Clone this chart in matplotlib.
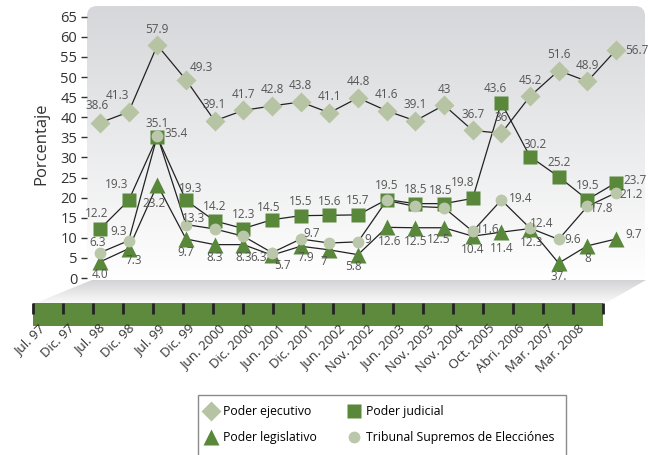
import numpy as np
import matplotlib.pyplot as plt
import matplotlib.transforms as mtransforms
from matplotlib.patches import FancyBboxPatch, Polygon, Rectangle
from matplotlib.lines import Line2D
from matplotlib.colors import LinearSegmentedColormap

plt.rcParams['font.family'] = ['Open Sans', 'DejaVu Sans']

fechas = ['Jul. 97', 'Dic. 97', 'Jul. 98', 'Dic. 98', 'Jul. 99', 'Dic. 99',
          'Jun. 2000', 'Dic. 2000', 'Jun. 2001', 'Dic. 2001', 'Jun. 2002',
          'Nov. 2002', 'Jun. 2003', 'Nov. 2003', 'Nov. 2004', 'Oct. 2005',
          'Abri. 2006', 'Mar. 2007', 'Mar. 2008']

ejecutivo = [38.6, 41.3, 57.9, 49.3, 39.1, 41.7, 42.8, 43.8, 41.1, 44.8,
             41.6, 39.1, 43, 36.7, 36, 45.2, 51.6, 48.9, 56.7]
judicial = [12.2, 19.3, 35.1, 19.3, 14.2, 12.3, 14.5, 15.5, 15.6, 15.7,
            19.5, 18.5, 18.5, 19.8, 43.6, 30.2, 25.2, 19.5, 23.7]
legislativo = [4.0, 7.3, 23.2, 9.7, 8.3, 8.3, 5.7, 7.9, 7, 5.8,
               12.6, 12.5, 12.5, 10.4, 11.4, 12.3, 3.7, 8, 9.7]
tse = [6.3, 9.3, 35.4, 13.3, 12.2, 10.4, 6.3, 9.7, 8.7, 9,
       19.3, 17.8, 17.5, 11.6, 19.4, 12.4, 9.6, 17.8, 21.2]

# etiquetas tal como aparecen en el original
etq_ejecutivo = [f'{v:g}' for v in ejecutivo]
etq_judicial = [f'{v:g}' for v in judicial]
etq_legislativo = ['4.0', '7.3', '23.2', '9.7', '8.3', '8.3', '5.7', '7.9', '7', '5.8',
                   '12.6', '12.5', '12.5', '10.4', '11.4', '12.3', '37.', '8', '9.7']
etq_tse = ['6.3', '9.3', '35.4', '13.3', '', '', '6.3', '9.7', '', '9',
           '', '', '', '11.6', '19.4', '12.4', '9.6', '17.8', '21.2']

# desplazamientos de etiquetas (pixeles)
off_ejec = {i: (0, 16) for i in range(19)}
off_ejec.update({0: (-3, 17), 1: (-11, 16), 3: (15, 12), 18: (21, 0)})
off_jud = {i: (0, 14) for i in range(19)}
off_jud.update({0: (-3, 15), 1: (-12, 16), 2: (0, 13), 3: (5, 12), 6: (-3, 12),
                12: (-3, 13), 13: (-10, 16), 14: (-6, 14), 15: (5, 12), 18: (19, 2)})
off_leg = {i: (0, -13) for i in range(19)}
off_leg.update({1: (5, -12), 2: (-3, -19), 6: (10, -10), 7: (5, -11), 8: (-5, -12),
                9: (-5, -12), 10: (3, -14), 11: (0, -14), 12: (-5, -12),
                14: (0, -16), 15: (2, -14), 18: (18, 5)})
off_tse = {0: (-2, 10), 1: (-10, 9), 2: (19, 2), 3: (8, 6), 6: (-13, -5),
           7: (11, 6), 9: (10, 2), 13: (15, 2), 14: (19, 2), 15: (12, 5),
           16: (14, 0), 17: (14, -2), 18: (15, -2)}

W, H = 649, 455
fig = plt.figure(figsize=(W / 100, H / 100), dpi=100)

# fondo: panel degradado, piso y barra
bg = fig.add_axes([0, 0, 1, 1], zorder=0)
bg.set_xlim(0, W)
bg.set_ylim(H, 0)
bg.axis('off')

grad = np.linspace(0, 1, 256).reshape(-1, 1)
cmap_panel = LinearSegmentedColormap.from_list('p', ['#d6d7da', '#ffffff'])
img = bg.imshow(grad, extent=(87, 645, 282, 6), origin='upper', cmap=cmap_panel,
                aspect='auto', zorder=0)
clip = FancyBboxPatch((87, 6), 558, 300, boxstyle='round,pad=0,rounding_size=10',
                      transform=bg.transData, facecolor='none', edgecolor='none')
bg.add_patch(clip)
img.set_clip_path(clip)

cmap_piso = LinearSegmentedColormap.from_list('f', ['#d3d3d5', '#fbfbfb'])
img2 = bg.imshow(grad, extent=(30, 648, 304, 280), origin='upper', cmap=cmap_piso,
                 aspect='auto', zorder=0)
piso = Polygon([(92, 280), (646, 280), (604, 304), (33, 304)], closed=True,
               transform=bg.transData, facecolor='none', edgecolor='none')
bg.add_patch(piso)
img2.set_clip_path(piso)

# leyenda: marco
bg.add_patch(Rectangle((198, 395), 368, 70, facecolor='white', edgecolor='#8a8a8a', lw=1))

# eje principal
ax = fig.add_axes([87 / W, 1 - 282 / H, 558 / W, 276 / H], zorder=2)
ax.set_facecolor('none')
x = np.arange(len(fechas))
ax.set_xlim(-13 / 28.67, 18 + 29 / 28.67)
ax.set_ylim(-(282 - 278) / 4.02, (278 - 6) / 4.02)
for s in ax.spines.values():
    s.set_visible(False)
ax.set_xticks([])
ax.set_yticks(range(0, 66, 5))
ax.tick_params(axis='y', length=4, width=1, pad=3, colors='#333333', labelsize=10.5)
ax.set_ylabel('Porcentaje', fontsize=12, color='#333333', labelpad=8)

linea = dict(color='#222222', lw=0.9, zorder=2)
ax.plot(x, ejecutivo, **linea)
ax.plot(x, judicial, **linea)
ax.plot(x, legislativo, **linea)
ax.plot(x, tse, **linea)

c_claro = '#b7c4a3'
c_verde = '#59883b'
c_circ = '#bbc7aa'
ax.plot(x, ejecutivo, ls='none', marker='D', ms=10, mfc=c_claro, mec='none', zorder=3)
ax.plot(x, judicial, ls='none', marker='s', ms=10, mfc=c_verde, mec='none', zorder=4)
ax.plot(x, legislativo, ls='none', marker='^', ms=11.5, mfc=c_verde, mec='none', zorder=5)
ax.plot(x, tse, ls='none', marker='o', ms=8.5, mfc=c_circ, mec='none', zorder=6)


def etiquetas(vals, textos, offs):
    for i, (v, t) in enumerate(zip(vals, textos)):
        if not t or i not in offs:
            continue
        ax.annotate(t, (i, v), xytext=offs[i], textcoords='offset pixels',
                    ha='center', va='center', fontsize=8.5, color='#555555', zorder=7)


etiquetas(ejecutivo, etq_ejecutivo, off_ejec)
etiquetas(judicial, etq_judicial, off_jud)
etiquetas(legislativo, etq_legislativo, off_leg)
etiquetas(tse, etq_tse, off_tse)

# barra verde con fechas
bar = fig.add_axes([33 / W, 1 - 326 / H, 570 / W, 23 / H], zorder=1)
bar.set_facecolor('#5e8a3e')
for s in bar.spines.values():
    s.set_visible(False)
bar.set_xlim(0, 19)
bar.set_yticks([])
bar.set_xticks(range(20))
bar.set_xticklabels(fechas + [''], rotation=45, ha='right', va='top',
                    rotation_mode='anchor', fontsize=9.5, color='#333333')
bar.tick_params(axis='x', top=True, bottom=False, labeltop=False, labelbottom=True,
                direction='in', length=8, width=2, color='#222222', pad=0)
desp = mtransforms.ScaledTranslation(5 / 100, 4 / 100, fig.dpi_scale_trans)
for lab in bar.get_xticklabels():
    lab.set_transform(lab.get_transform() + desp)

# leyenda
handles = [
    Line2D([], [], ls='none', marker='D', ms=10, mfc=c_claro, mec='none'),
    Line2D([], [], ls='none', marker='^', ms=11.5, mfc=c_verde, mec='none'),
    Line2D([], [], ls='none', marker='s', ms=10, mfc=c_verde, mec='none'),
    Line2D([], [], ls='none', marker='o', ms=8.5, mfc=c_circ, mec='none'),
]
nombres = ['Poder ejecutivo', 'Poder legislativo', 'Poder judicial',
           'Tribunal Supremos de Elecciónes']
fig.legend(handles, nombres, ncol=2, loc='upper left',
           bbox_to_anchor=(205 / W, 1 - 405 / H), frameon=False, fontsize=8.8,
           handlelength=1.0, handletextpad=0.45, columnspacing=2.6,
           labelspacing=1.05, borderpad=0, borderaxespad=0)

fig.savefig('out.png', dpi=100)
